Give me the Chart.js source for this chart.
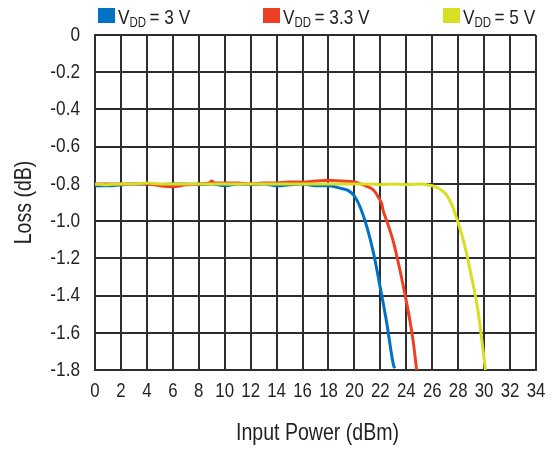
<!DOCTYPE html>
<html>
<head>
<meta charset="utf-8">
<script src="https://cdn.jsdelivr.net/npm/chart.js@4"></script>
<style>
  html, body { margin: 0; padding: 0; background: #fff; }
  #wrap { width: 558px; height: 450px; position: relative; }
</style>
</head>
<body>
<div id="wrap"><canvas id="lossChart" width="558" height="450"></canvas></div>
<script>
const FONT = "'Liberation Sans', Arial, sans-serif";
const INK = "#231f20";
const GRID = "#2e2e2e";

const xTicks = [0, 2, 4, 6, 8, 10, 12, 14, 16, 18, 20, 22, 24, 26, 28, 30, 32, 34];
const yTicks = [0, -0.2, -0.4, -0.6, -0.8, -1.0, -1.2, -1.4, -1.6, -1.8];

const labels = ["3 V", "3.3 V", "5 V"];

const blueX = [0, 1, 2, 3, 4, 5, 6, 7, 8, 9, 10, 11, 12, 13, 14, 15, 16, 17, 18, 18.5, 19, 19.5, 20, 20.5, 21, 21.5, 22, 22.5, 23, 23.1];
const blueY = [-0.81, -0.81, -0.805, -0.80, -0.80, -0.805, -0.80, -0.80, -0.805, -0.80, -0.81, -0.80, -0.805, -0.80, -0.81, -0.805, -0.80, -0.81, -0.81, -0.815, -0.825, -0.835, -0.865, -0.935, -1.04, -1.18, -1.36, -1.55, -1.77, -1.79];

const redX = [0, 1, 2, 3, 4, 5, 6, 7, 8, 8.8, 9, 9.2, 10, 11, 12, 13, 14, 15, 16, 17, 18, 19, 20, 20.5, 21, 21.5, 22, 22.1, 22.2, 22.5, 23, 23.5, 24, 24.5, 24.8];
const redY = [-0.80, -0.80, -0.80, -0.80, -0.80, -0.81, -0.815, -0.805, -0.80, -0.795, -0.785, -0.795, -0.795, -0.795, -0.80, -0.795, -0.795, -0.79, -0.79, -0.785, -0.78, -0.785, -0.79, -0.80, -0.815, -0.835, -0.89, -0.905, -0.94, -1.0, -1.11, -1.26, -1.43, -1.63, -1.80];

const yellowX = [0, 1, 2, 3, 4, 5, 6, 7, 8, 9, 10, 11, 12, 13, 14, 15, 16, 17, 18, 19, 20, 21, 22, 23, 24, 25, 26, 26.5, 27, 27.5, 28, 28.5, 29, 29.5, 30, 30.1];
const yellowY = [-0.80, -0.805, -0.80, -0.80, -0.795, -0.80, -0.80, -0.80, -0.80, -0.80, -0.80, -0.80, -0.80, -0.80, -0.80, -0.80, -0.80, -0.80, -0.80, -0.80, -0.80, -0.80, -0.805, -0.80, -0.805, -0.80, -0.81, -0.825, -0.85, -0.91, -1.01, -1.13, -1.29, -1.47, -1.74, -1.80];

const colors = ["#0072c6", "#f04023", "#d7df23"];

function toPoints(xs, ys) {
    return xs.map((x, i) => ({ x: x, y: ys[i] }));
}

// condensed look: squeeze the regular sans horizontally
function narrowText(ctx, text, x, y, size, sx, align, rot) {
    ctx.save();
    ctx.translate(x, y);
    if (rot) ctx.rotate(rot);
    ctx.scale(sx, 1);
    ctx.font = size + "px " + FONT;
    ctx.textAlign = align;
    ctx.textBaseline = "middle";
    ctx.fillStyle = INK;
    ctx.fillText(text, 0, 0);
    ctx.restore();
}

const textPlugin = {
    id: "textPlugin",
    afterDraw(chart) {
        const ctx = chart.ctx;
        const xs = chart.scales.x, ys = chart.scales.y;
        xs.ticks.forEach(t => {
            narrowText(ctx, String(t.value), xs.getPixelForValue(t.value), 391, 21, 0.8, "center");
        });
        ys.ticks.forEach(t => {
            const txt = t.value === 0 ? "0" : t.value.toFixed(1);
            narrowText(ctx, txt, 80, ys.getPixelForValue(t.value), 21, 0.82, "right");
        });
        narrowText(ctx, "Input Power (dBm)", (chart.chartArea.left + chart.chartArea.right) / 2 + 2, 433, 24, 0.815, "center");
        narrowText(ctx, "Loss (dB)", 24, (chart.chartArea.top + chart.chartArea.bottom) / 2, 24, 0.815, "center", -Math.PI / 2);

        // legend with subscript DD
        const starts = [98, 263, 443];
        ctx.save();
        ctx.textBaseline = "alphabetic";
        starts.forEach((x0, i) => {
            ctx.fillStyle = colors[i];
            ctx.fillRect(x0, 8, 17, 15);
            ctx.fillStyle = INK;
            let x = x0 + 20;
            const parts = [["V", 21, 24], ["DD", 14, 26.5], ["\u2009= " + labels[i], 21, 24]];
            parts.forEach(p => {
                ctx.save();
                ctx.translate(x, p[2]);
                ctx.scale(0.82, 1);
                ctx.font = p[1] + "px " + FONT;
                ctx.fillText(p[0], 0, 0);
                x += ctx.measureText(p[0]).width * 0.82;
                ctx.restore();
            });
        });
        ctx.restore();
    }
};

const ctx = document.getElementById("lossChart").getContext("2d");
const lossChart = new Chart(ctx, {
    type: "line",
    data: {
        datasets: [
            { label: labels[0], data: toPoints(blueX, blueY), borderColor: colors[0], order: 2 },
            { label: labels[1], data: toPoints(redX, redY), borderColor: colors[1], order: 1 },
            { label: labels[2], data: toPoints(yellowX, yellowY), borderColor: colors[2], order: 0 }
        ]
    },
    options: {
        responsive: false,
        animation: false,
        layout: { padding: { top: 35, right: 22, left: 0, bottom: 0 } },
        elements: {
            point: { radius: 0 },
            line: { borderWidth: 3, tension: 0.2, cubicInterpolationMode: "monotone" }
        },
        plugins: {
            legend: { display: false },
            tooltip: { enabled: false }
        },
        scales: {
            x: {
                type: "linear",
                min: 0,
                max: 34,
                afterBuildTicks: (scale) => { scale.ticks = xTicks.map(v => ({ value: v })); },
                afterFit: (scale) => { scale.height = 80; },
                grid: { color: GRID, lineWidth: 2, drawTicks: false },
                border: { color: GRID, width: 2 },
                ticks: { display: false }
            },
            y: {
                min: -1.8,
                max: 0,
                afterBuildTicks: (scale) => { scale.ticks = yTicks.map(v => ({ value: v })); },
                afterFit: (scale) => { scale.width = 95; },
                grid: { color: GRID, lineWidth: 2, drawTicks: false },
                border: { color: GRID, width: 2 },
                ticks: { display: false }
            }
        }
    },
    plugins: [textPlugin]
});
</script>
</body>
</html>
